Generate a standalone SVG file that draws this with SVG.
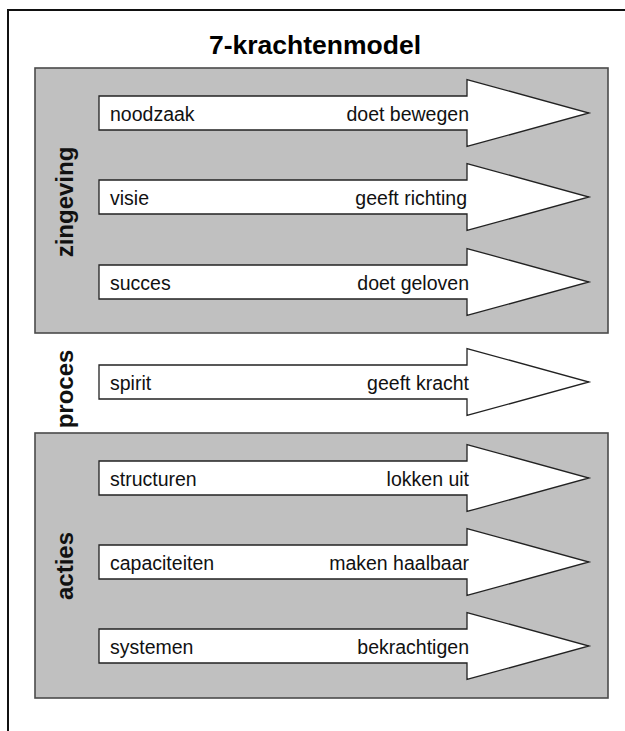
<svg xmlns="http://www.w3.org/2000/svg" width="625" height="731" viewBox="0 0 625 731">
<defs>
<style>
.frame{fill:none;stroke:#111;stroke-width:2}
.band{fill:#c0c0c0;stroke:#4a4a4a;stroke-width:1.6}
.arrow{fill:#fff;stroke:#222;stroke-width:1.3;stroke-linejoin:miter}
.lbl{font-family:"Liberation Sans",Arial,sans-serif;font-size:19.5px;fill:#111}
.end{text-anchor:end}
.side{font-family:"Liberation Sans",Arial,sans-serif;font-size:24px;font-weight:bold;fill:#111;text-anchor:middle}
.title{font-family:"Liberation Sans",Arial,sans-serif;font-size:26.5px;font-weight:bold;fill:#000;text-anchor:middle}
</style>
<path id="arr" d="M99,-17 H467 V-33.5 L589,0 L467,33.5 V17 H99 Z"/>
</defs>
<rect width="625" height="731" fill="#fff"/>
<path class="frame" d="M8,731 V10 H625"/>
<text class="title" x="315" y="54">7-krachtenmodel</text>

<g id="zingeving">
<rect class="band" x="35" y="68" width="573" height="265"/>
<text class="side" transform="translate(73,202) rotate(-90)">zingeving</text>
</g>
<g id="proces">
<text class="side" transform="translate(73,389) rotate(-90)">proces</text>
</g>
<g id="acties">
<rect class="band" x="35" y="433" width="573" height="265"/>
<text class="side" transform="translate(73,566) rotate(-90)">acties</text>
</g>

<g id="noodzaak" transform="translate(0,113)">
<use href="#arr" class="arrow"/>
<text class="lbl" x="110" y="7.5">noodzaak</text>
<text class="lbl end" x="469" y="7.5">doet bewegen</text>
</g>
<g id="visie" transform="translate(0,197)">
<use href="#arr" class="arrow"/>
<text class="lbl" x="110" y="7.5">visie</text>
<text class="lbl end" x="467" y="7.5">geeft richting</text>
</g>
<g id="succes" transform="translate(0,282)">
<use href="#arr" class="arrow"/>
<text class="lbl" x="110" y="7.5">succes</text>
<text class="lbl end" x="469" y="7.5">doet geloven</text>
</g>
<g id="spirit" transform="translate(0,382)">
<use href="#arr" class="arrow"/>
<text class="lbl" x="110" y="7.5">spirit</text>
<text class="lbl end" x="469" y="7.5">geeft kracht</text>
</g>
<g id="structuren" transform="translate(0,478)">
<use href="#arr" class="arrow"/>
<text class="lbl" x="110" y="7.5">structuren</text>
<text class="lbl end" x="469" y="7.5">lokken uit</text>
</g>
<g id="capaciteiten" transform="translate(0,562)">
<use href="#arr" class="arrow"/>
<text class="lbl" x="110" y="7.5">capaciteiten</text>
<text class="lbl end" x="469" y="7.5">maken haalbaar</text>
</g>
<g id="systemen" transform="translate(0,646)">
<use href="#arr" class="arrow"/>
<text class="lbl" x="110" y="7.5">systemen</text>
<text class="lbl end" x="469" y="7.5">bekrachtigen</text>
</g>
<g id="connectors"></g>
</svg>
